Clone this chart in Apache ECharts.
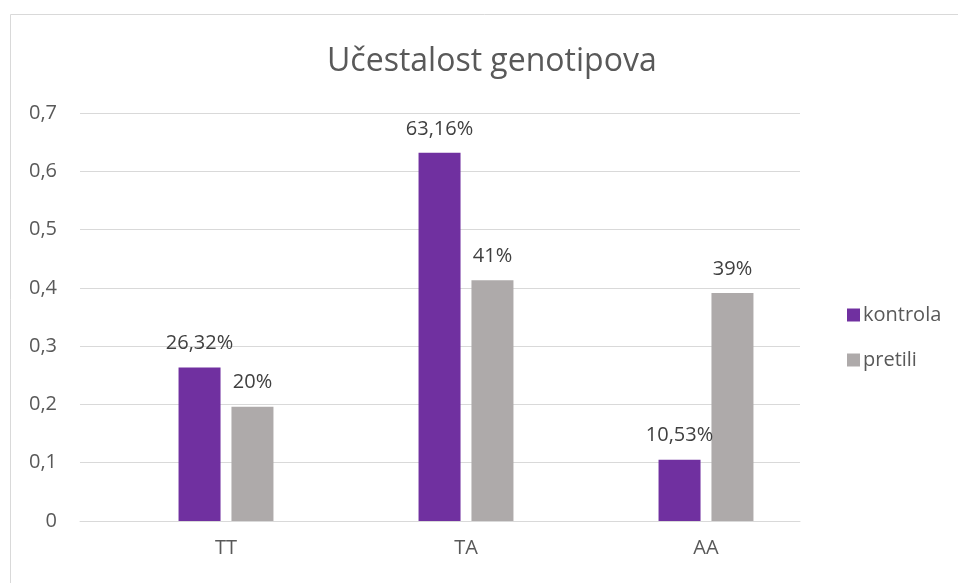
<!DOCTYPE html>
<html>
<head>
<meta charset="utf-8">
<script src="https://cdn.jsdelivr.net/npm/echarts@6/dist/echarts.min.js"></script>
<style>html,body{margin:0;padding:0;background:#fff}#c{width:958px;height:583px}</style>
</head>
<body>
<div id="c"></div>
<script>
const categories = ['TT', 'TA', 'AA'];
const kontrola = [0.2632, 0.6316, 0.1053];
const pretili = [0.196, 0.413, 0.391];
const kontrolaLabels = ['26,32%', '63,16%', '10,53%'];
const pretiliLabels = ['20%', '41%', '39%'];
const yTicks = { min: 0, max: 0.7, interval: 0.1 };

const FONT = '"Open Sans", sans-serif';
const chart = echarts.init(document.getElementById('c'));
chart.setOption({
  animation: false,
  title: {
    text: 'Učestalost genotipova',
    left: 322,
    top: 41,
    textStyle: { fontFamily: FONT, fontSize: 32, fontWeight: 'normal', color: '#595959' }
  },
  graphic: [{
    type: 'rect',
    shape: { x: 10.5, y: 14.5, width: 1000, height: 700 },
    style: { fill: 'none', stroke: '#d9d9d9', lineWidth: 1 },
    silent: true
  }],
  legend: {
    orient: 'vertical',
    left: 842,
    top: 300,
    itemWidth: 13,
    itemHeight: 13,
    itemGap: 25,
    icon: 'rect',
    textStyle: { fontFamily: FONT, fontSize: 20, color: '#595959', padding: [0, 0, 0, -2] },
    data: ['kontrola', 'pretili']
  },
  grid: [
    { left: 80, right: 158, top: 113, bottom: 62 },
    { left: 106, right: 132, top: 113, bottom: 62 }
  ],
  xAxis: [
    {
      type: 'category', gridIndex: 0, data: categories,
      axisLine: { show: true, lineStyle: { color: '#d9d9d9', width: 1 } },
      axisTick: { show: false }, axisLabel: { show: false }
    },
    {
      type: 'category', gridIndex: 1, data: categories,
      axisLine: { show: false }, axisTick: { show: false },
      axisLabel: { fontFamily: FONT, fontSize: 20, color: '#595959', margin: 17 }
    }
  ],
  yAxis: [
    {
      type: 'value', gridIndex: 0, min: yTicks.min, max: yTicks.max, interval: yTicks.interval,
      axisLine: { show: false }, axisTick: { show: false },
      axisLabel: {
        fontFamily: FONT, fontSize: 20, color: '#595959', margin: 23,
        formatter: v => String(Math.round(v * 10) / 10).replace('.', ',')
      },
      splitLine: { lineStyle: { color: '#d9d9d9', width: 1 } }
    },
    {
      type: 'value', gridIndex: 1, min: yTicks.min, max: yTicks.max, interval: yTicks.interval,
      show: false, splitLine: { show: false }
    }
  ],
  series: [
    {
      name: 'kontrola', type: 'bar', xAxisIndex: 1, yAxisIndex: 1,
      data: kontrola, barWidth: 42, barGap: '26%',
      itemStyle: { color: '#7030A0' },
      label: {
        show: true, position: 'top', distance: 14,
        fontFamily: FONT, fontSize: 20, color: '#404040',
        formatter: p => kontrolaLabels[p.dataIndex]
      }
    },
    {
      name: 'pretili', type: 'bar', xAxisIndex: 1, yAxisIndex: 1,
      data: pretili, barWidth: 42, barGap: '26%',
      itemStyle: { color: '#AEAAAA' },
      label: {
        show: true, position: 'top', distance: 14,
        fontFamily: FONT, fontSize: 20, color: '#404040',
        formatter: p => pretiliLabels[p.dataIndex]
      }
    }
  ]
});
</script>
</body>
</html>
